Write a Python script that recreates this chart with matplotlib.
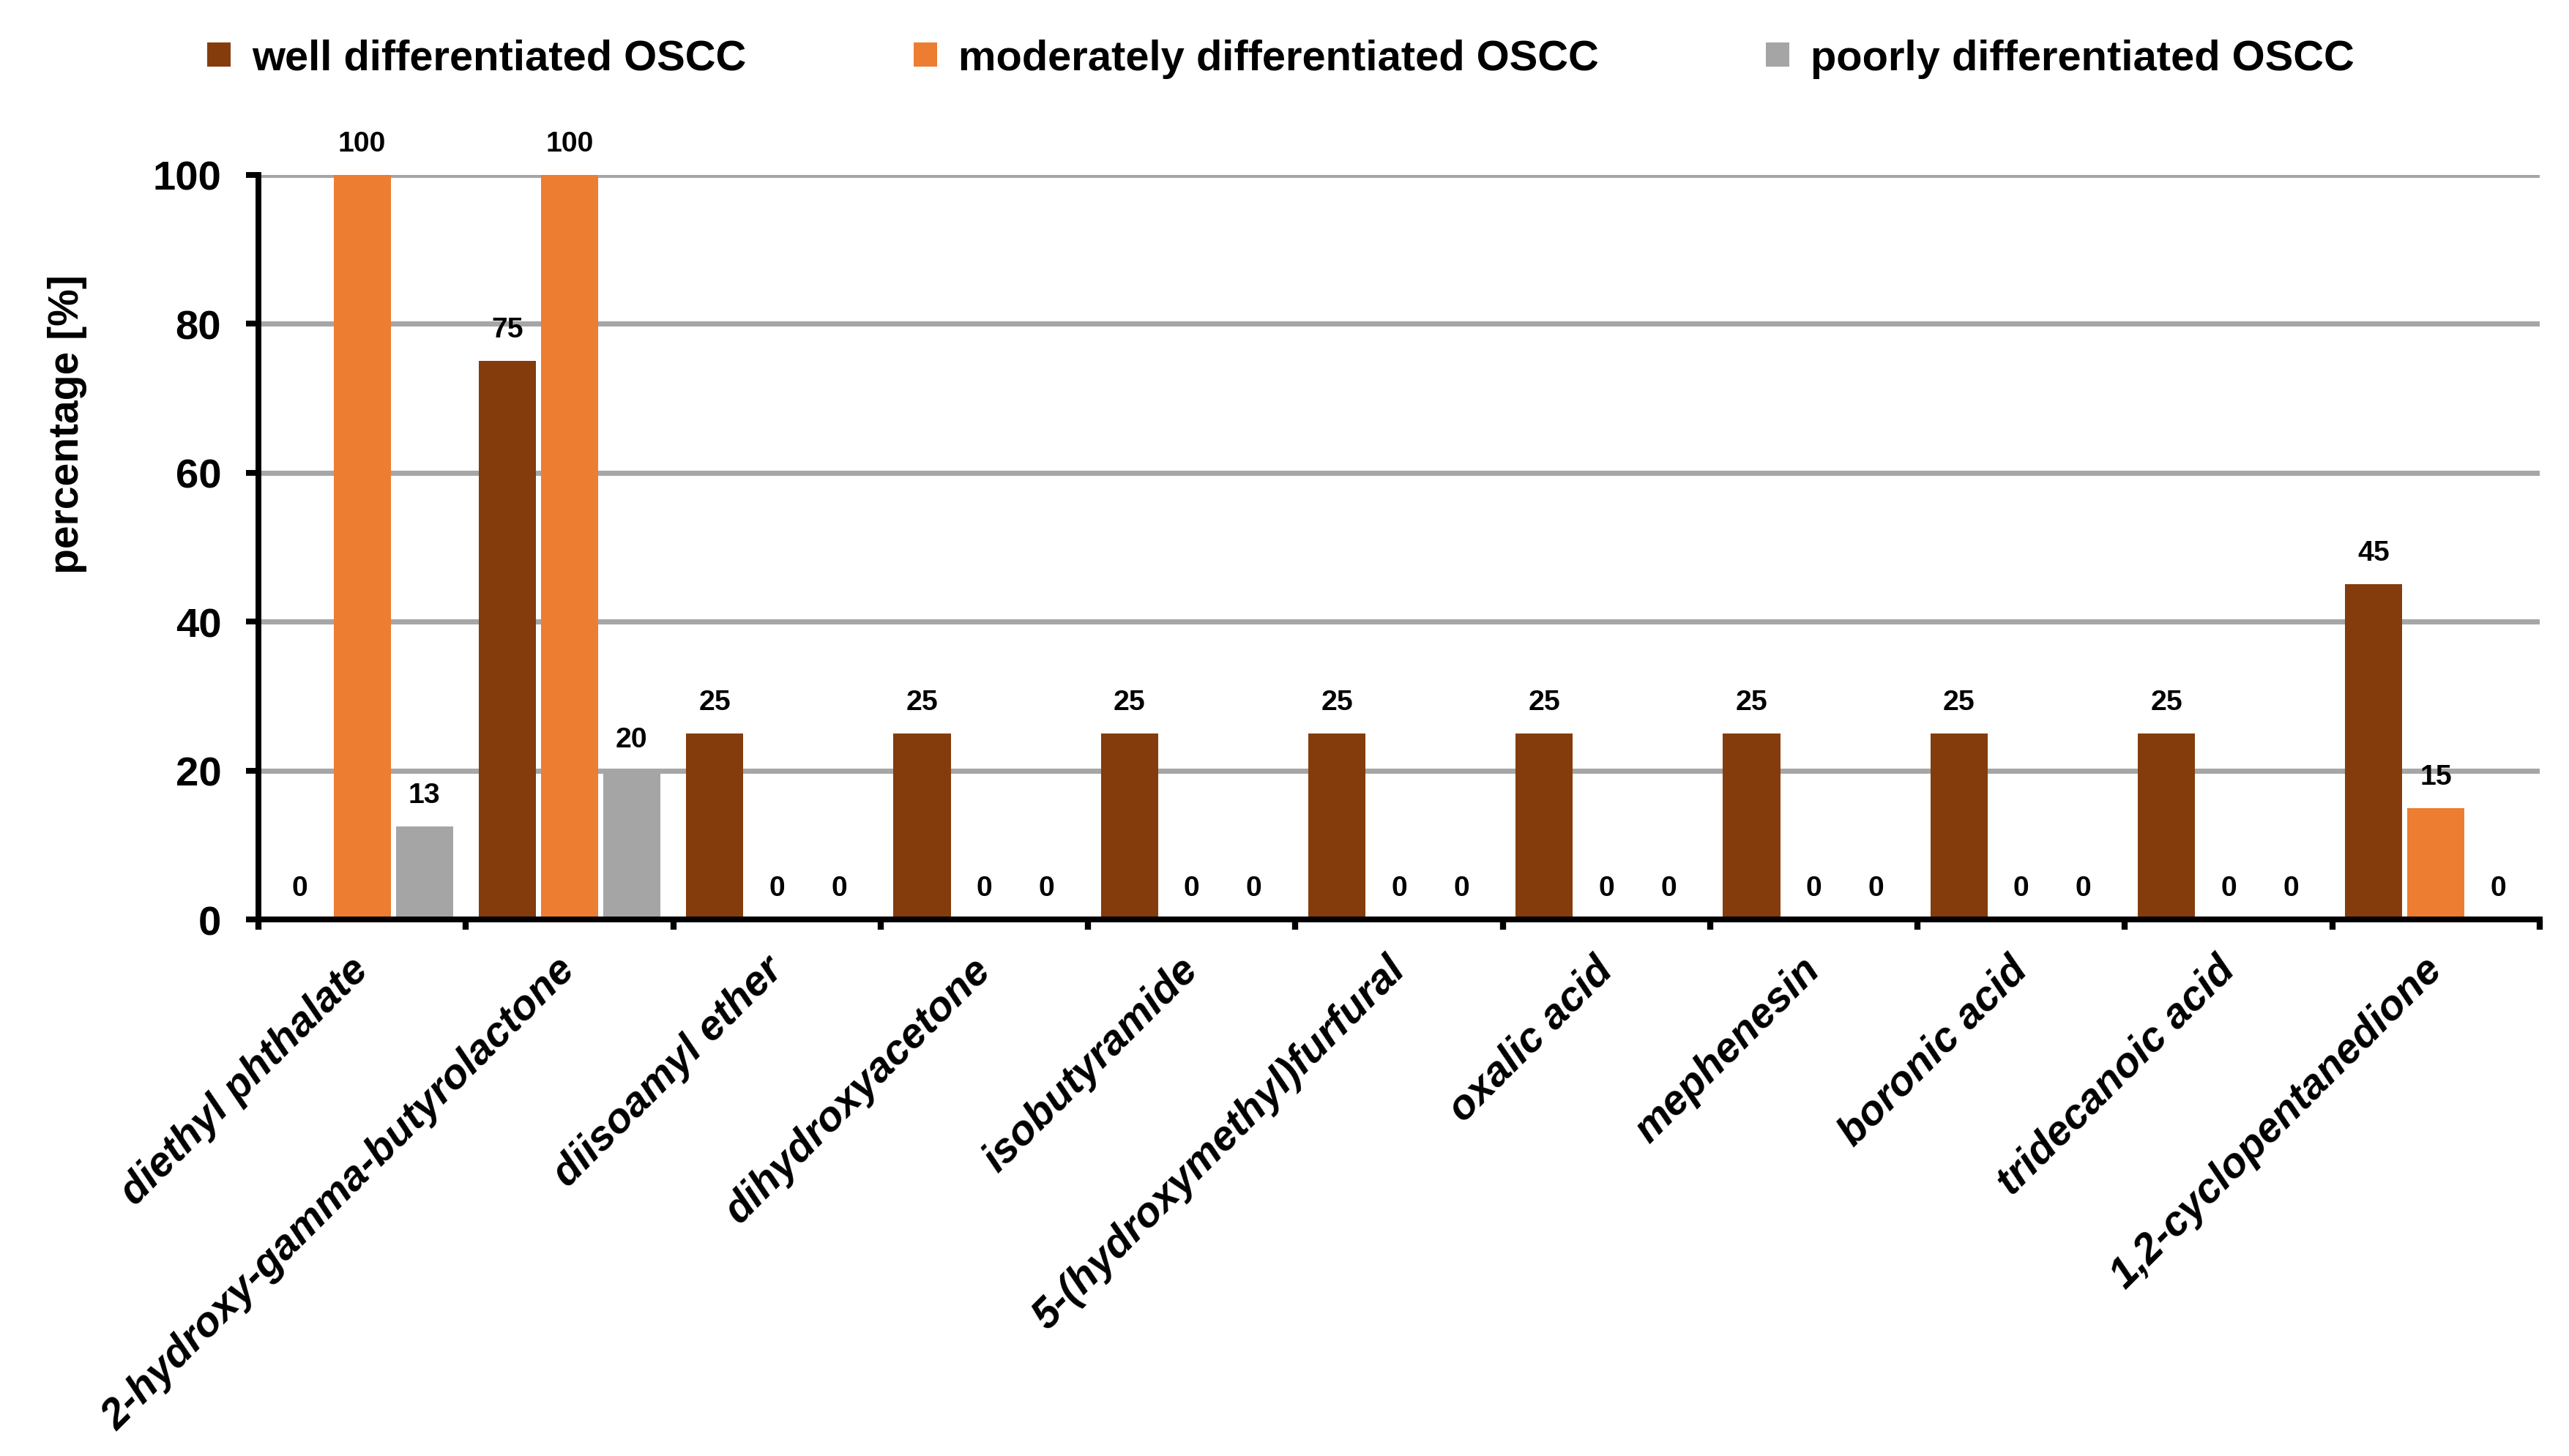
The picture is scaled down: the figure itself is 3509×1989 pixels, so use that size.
import math
import matplotlib
matplotlib.use('Agg')
import matplotlib.pyplot as plt
import numpy as np

plt.rcParams['font.family'] = ['Liberation Sans', 'DejaVu Sans']

compounds = ['diethyl phthalate', '2-hydroxy-gamma-butyrolactone', 'diisoamyl ether',
             'dihydroxyacetone', 'isobutyramide', '5-(hydroxymethyl)furfural',
             'oxalic acid', 'mephenesin', 'boronic acid', 'tridecanoic acid',
             '1,2-cyclopentanedione']
well = [0, 75, 25, 25, 25, 25, 25, 25, 25, 25, 45]
moderately = [100, 100, 0, 0, 0, 0, 0, 0, 0, 0, 15]
poorly = [12.5, 20, 0, 0, 0, 0, 0, 0, 0, 0, 0]
series_names = ['well differentiated OSCC', 'moderately differentiated OSCC',
                'poorly differentiated OSCC']
colors = ['#843C0C', '#ED7D31', '#A5A5A5']

fig = plt.figure(figsize=(35.09 / 3, 19.90 / 3), dpi=300)
ax = fig.add_axes([0.1006, 0.3683, 0.888, 0.5111])

x = np.arange(len(compounds))
width = 0.276
step = 0.30
for i, (vals, name, c) in enumerate(zip([well, moderately, poorly], series_names, colors)):
    pos = x + (i - 1) * step
    ax.bar(pos, vals, width, color=c, label=name, zorder=3)
    for p, v in zip(pos, vals):
        ax.annotate(str(math.floor(v + 0.5)), (p, v), xytext=(0, 10.3),
                    textcoords='offset points', ha='center', va='center',
                    fontsize=9.4, fontweight='bold', annotation_clip=False)

ax.set_xlim(-0.5, len(compounds) - 0.5)
ax.set_ylim(0, 100)
ax.set_yticks([0, 20, 40, 60, 80, 100])
ax.yaxis.grid(True, color='#A6A6A6', linewidth=1.7, zorder=0)
ax.set_axisbelow(True)

ax.spines['top'].set_visible(False)
ax.spines['right'].set_visible(False)
ax.spines['left'].set_linewidth(1.9)
ax.spines['bottom'].set_linewidth(1.9)
ax.spines['bottom'].set_zorder(4)

ax.set_xticks(x)
ax.set_xticklabels(compounds, rotation=45, ha='right', va='center',
                   rotation_mode='anchor', fontsize=13.7, fontweight='bold',
                   fontstyle='italic')
ax.tick_params(axis='x', which='major', length=0, pad=14.4)
ax.set_xticks(np.arange(-0.5, len(compounds)), minor=True)
ax.tick_params(axis='x', which='minor', length=3.4, width=2, direction='out')
ax.tick_params(axis='y', length=4, width=1.9, direction='out', pad=8.2,
               labelsize=13.5)
for t in ax.get_yticklabels():
    t.set_fontweight('bold')

ax.set_ylabel('percentage [%]', fontsize=13.7, fontweight='bold', va='center')
ax.yaxis.set_label_coords(-0.0838, 0.666)

fig.legend(loc='center left', bbox_to_anchor=(283 / 3509, 1 - 81 / 1990), ncol=3,
           frameon=False, borderpad=0, borderaxespad=0,
           prop={'size': 13.9, 'weight': 'bold'}, handlelength=0.55,
           handleheight=0.52, handletextpad=0.5, columnspacing=3.95)

fig.savefig('out.png', dpi=300)
